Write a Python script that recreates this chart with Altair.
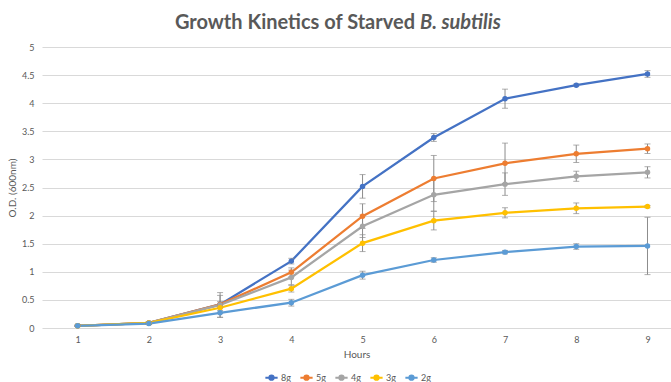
import altair as alt
import pandas as pd

# Optical density (600 nm) readings per hour for each starvation group
hours = [1, 2, 3, 4, 5, 6, 7, 8, 9]
groups = ["8g", "5g", "4g", "3g", "2g"]
colors = ["#4472C4", "#ED7D31", "#A5A5A5", "#FFC000", "#5B9BD5"]
y_ticks = [0, 0.5, 1, 1.5, 2, 2.5, 3, 3.5, 4, 4.5, 5]

od_8g = [0.04, 0.09, 0.42, 1.19, 2.52, 3.39, 4.08, 4.32, 4.52]
od_5g = [0.04, 0.09, 0.42, 0.99, 1.99, 2.66, 2.93, 3.10, 3.19]
od_4g = [0.04, 0.09, 0.41, 0.90, 1.81, 2.37, 2.56, 2.70, 2.77]
od_3g = [0.04, 0.09, 0.36, 0.70, 1.51, 1.91, 2.05, 2.13, 2.16]
od_2g = [0.04, 0.08, 0.27, 0.45, 0.94, 1.21, 1.35, 1.45, 1.46]

# Standard deviations used for the error bars
sd_8g = [0.01, 0.02, 0.05, 0.05, 0.21, 0.07, 0.17, 0.02, 0.06]
sd_5g = [0.01, 0.02, 0.16, 0.08, 0.22, 0.41, 0.36, 0.155, 0.085]
sd_4g = [0.01, 0.02, 0.22, 0.13, 0.20, 0.29, 0.20, 0.09, 0.10]
sd_3g = [0.01, 0.02, 0.05, 0.06, 0.15, 0.165, 0.09, 0.095, 0.02]
sd_2g = [0.01, 0.02, 0.08, 0.06, 0.07, 0.04, 0.03, 0.05, 0.51]

series = {
    "8g": (od_8g, sd_8g),
    "5g": (od_5g, sd_5g),
    "4g": (od_4g, sd_4g),
    "3g": (od_3g, sd_3g),
    "2g": (od_2g, sd_2g),
}

rows = []
for g in groups:
    od, sd = series[g]
    for h, v, s in zip(hours, od, sd):
        rows.append({"Hours": h, "OD": v, "group": g, "lo": v - s, "hi": v + s})
df = pd.DataFrame(rows)

FONT = "Lato"
GREY_TEXT = "#595959"
ERR_GREY = "#8C8C8C"

x_scale = alt.Scale(domain=[0.5, 9.33], nice=False, zero=False)
y_scale = alt.Scale(domain=[0, 5], nice=False)
x_axis = alt.Axis(values=hours, grid=False, ticks=False, domain=False,
                  title="Hours", labelPadding=7, titlePadding=5,
                  labelFontSize=9, titleFontSize=10,
                  labelColor=GREY_TEXT, titleColor=GREY_TEXT,
                  labelFont=FONT, titleFont=FONT, titleFontWeight="normal")
y_axis = alt.Axis(values=y_ticks, format="~g", labelOverlap=False,
                  grid=True, gridColor="#D9D9D9", gridWidth=1,
                  ticks=False, domain=False, title="O.D. (600nm)",
                  labelPadding=8, titlePadding=4,
                  labelFontSize=9, titleFontSize=10,
                  labelColor=GREY_TEXT, titleColor=GREY_TEXT,
                  labelFont=FONT, titleFont=FONT, titleFontWeight="normal")


def xq():
    return alt.X("Hours:Q", scale=x_scale, axis=x_axis)


def yq(field):
    return alt.Y(f"{field}:Q", scale=y_scale, axis=y_axis, title="O.D. (600nm)")


color_scale = alt.Scale(domain=groups, range=colors)
color_enc = alt.Color(
    "group:N",
    scale=color_scale,
    legend=alt.Legend(
        orient="none", direction="horizontal", legendX=222, legendY=323,
        title=None, labelFont=FONT, labelFontSize=9, labelColor=GREY_TEXT,
        symbolType="M-1,0H1M-0.35,0A0.35,0.35 0 1,0 0.35,0A0.35,0.35 0 1,0 -0.35,0",
        symbolSize=150, symbolStrokeWidth=2, columnPadding=5, labelOffset=2,
    ),
)

base = alt.Chart(df)

lines = base.mark_line(strokeWidth=2.25).encode(
    x=xq(), y=yq("OD"), color=color_enc, detail="group:N"
)
err_rule = base.mark_rule(color=ERR_GREY, strokeWidth=1).encode(
    x=xq(), y=yq("lo"), y2="hi:Q"
)
err_lo = base.mark_tick(color=ERR_GREY, orient="horizontal", size=6, thickness=1).encode(
    x=xq(), y=yq("lo")
)
err_hi = base.mark_tick(color=ERR_GREY, orient="horizontal", size=6, thickness=1).encode(
    x=xq(), y=yq("hi")
)
points = base.mark_point(filled=True, size=30, opacity=1).encode(
    x=xq(), y=yq("OD"),
    color=alt.Color("group:N", scale=color_scale, legend=None),
)

title_df = pd.DataFrame({"t": ["Growth Kinetics of Starved"], "i": ["B. subtilis"]})
title_main = alt.Chart(title_df).mark_text(
    align="right", baseline="alphabetic", font=FONT, fontSize=20,
    fontWeight="bold", color=GREY_TEXT,
).encode(text="t:N", x=alt.value(373), y=alt.value(-18))
title_ital = alt.Chart(title_df).mark_text(
    align="left", baseline="alphabetic", font=FONT, fontSize=20,
    fontWeight="bold", fontStyle="italic", color=GREY_TEXT,
).encode(text="i:N", x=alt.value(378), y=alt.value(-18))

chart = alt.layer(
    lines, err_rule, err_lo, err_hi, points, title_main, title_ital
).properties(
    width=629, height=281,
    padding={"left": 42, "top": 47, "right": 0, "bottom": 54},
    autosize=alt.AutoSizeParams(type="none"),
    background="white",
).configure_view(stroke=None)

chart.save("out.html", embed_options={"renderer": "svg", "actions": False})
